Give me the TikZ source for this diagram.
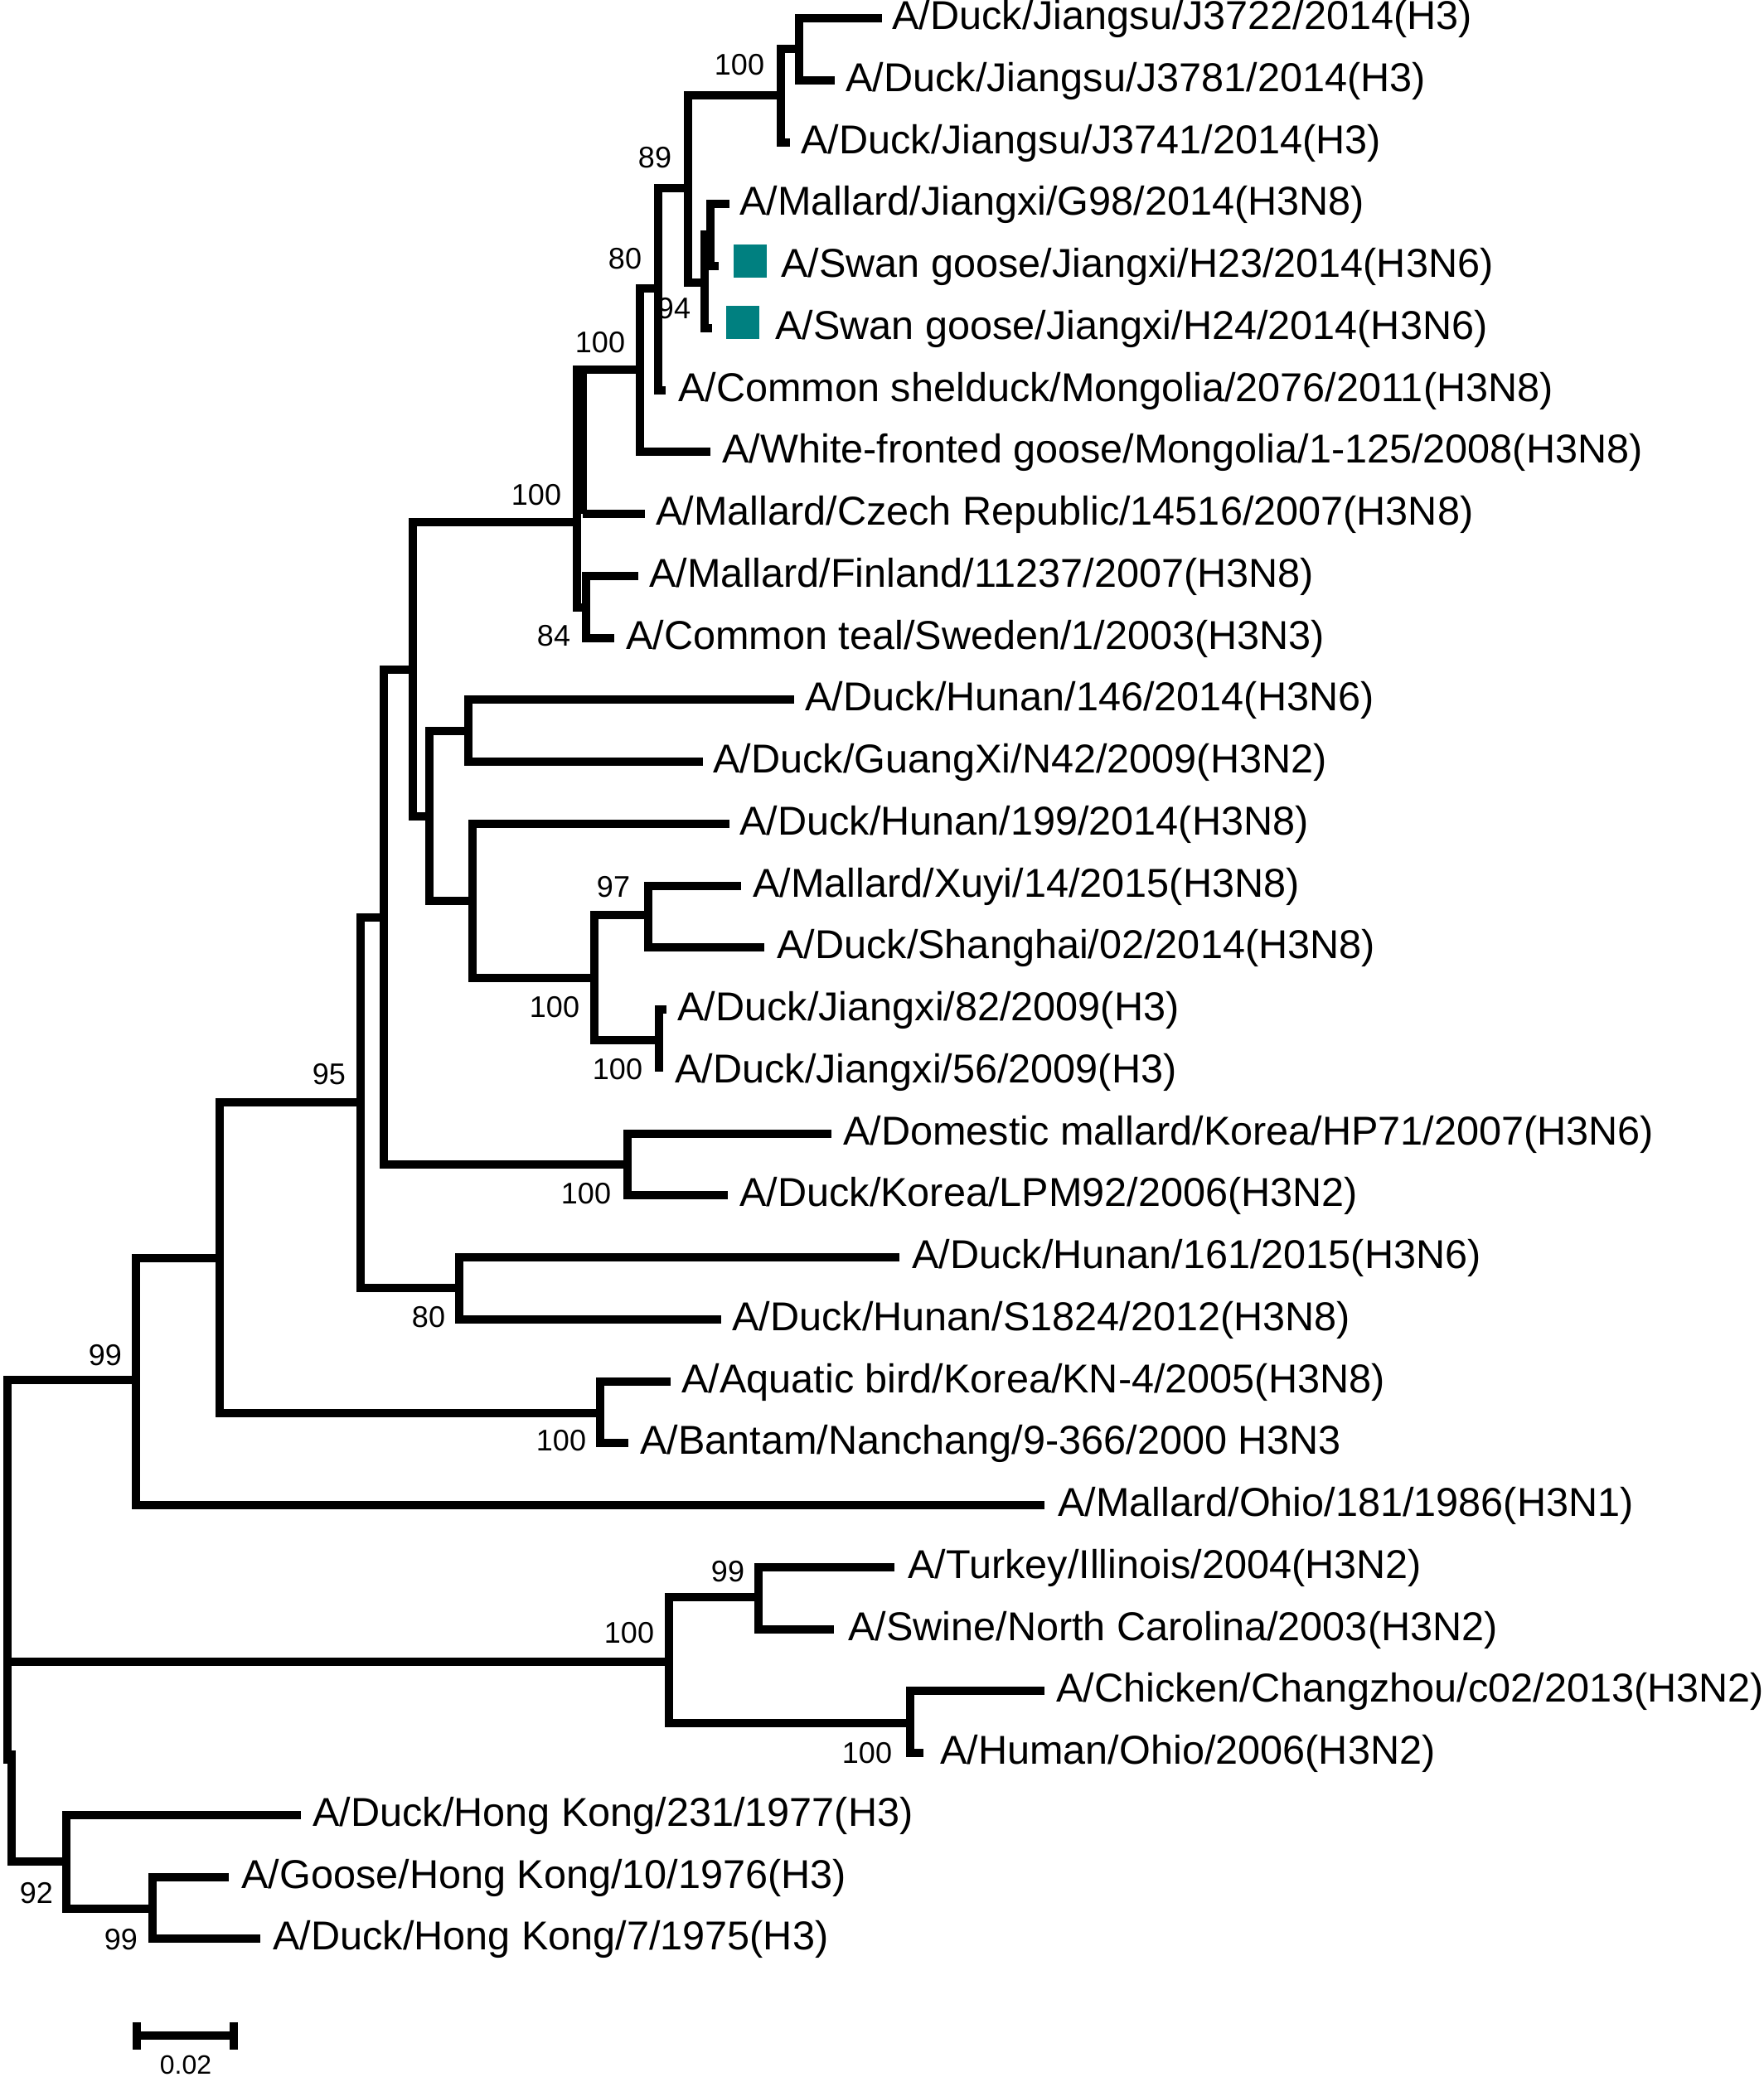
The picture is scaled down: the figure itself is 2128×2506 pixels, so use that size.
\documentclass[tikz,border=0pt]{standalone}
\usepackage{fontspec}
\setmainfont{Liberation Sans}
\usetikzlibrary{calc}
\definecolor{tealmark}{RGB}{0,128,128}
\newcommand\leafnode[5]{%
  \coordinate (#1) at (#2,{22+74.75*#3});
  \node[lab] (#1t) at ($(#1)+(#4,13.5)$) {#5};}
\begin{document}
\begin{tikzpicture}[x=0.5pt,y=-0.5pt,
  br/.style={line width=5pt},
  lab/.style={anchor=base west,inner sep=0pt,font=\fontsize{24.3}{29}\selectfont},
  bs/.style={inner sep=0pt,font=\fontsize{18}{22}\selectfont},
  sq/.style={fill=tealmark,draw=none,minimum size=20pt,inner sep=0pt}]
\useasboundingbox (0,0) rectangle (2128,2506);
% leaves
\leafnode{L0}{1064}{0}{12}{A/Duck/Jiangsu/J3722/2014(H3)}
\leafnode{L1}{1007}{1}{13}{A/Duck/Jiangsu/J3781/2014(H3)}
\leafnode{L2}{953}{2}{13}{A/Duck/Jiangsu/J3741/2014(H3)}
\leafnode{L3}{880}{3}{12}{A/Mallard/Jiangxi/G98/2014(H3N8)}
\leafnode{L4}{867}{4}{75}{A/Swan goose/Jiangxi/H23/2014(H3N6)}
\leafnode{L5}{859}{5}{76}{A/Swan goose/Jiangxi/H24/2014(H3N6)}
\leafnode{L6}{803}{6}{15}{A/Common shelduck/Mongolia/2076/2011(H3N8)}
\leafnode{L7}{857}{7}{14}{A/White-fronted goose/Mongolia/1-125/2008(H3N8)}
\leafnode{L8}{778}{8}{13}{A/Mallard/Czech Republic/14516/2007(H3N8)}
\leafnode{L9}{770}{9}{13}{A/Mallard/Finland/11237/2007(H3N8)}
\leafnode{L10}{741}{10}{14}{A/Common teal/Sweden/1/2003(H3N3)}
\leafnode{L11}{958}{11}{13}{A/Duck/Hunan/146/2014(H3N6)}
\leafnode{L12}{848}{12}{12}{A/Duck/GuangXi/N42/2009(H3N2)}
\leafnode{L13}{880}{13}{12}{A/Duck/Hunan/199/2014(H3N8)}
\leafnode{L14}{894}{14}{14}{A/Mallard/Xuyi/14/2015(H3N8)}
\leafnode{L15}{922}{15}{15}{A/Duck/Shanghai/02/2014(H3N8)}
\leafnode{L16}{804}{16}{13}{A/Duck/Jiangxi/82/2009(H3)}
\leafnode{L17}{795}{17}{19}{A/Duck/Jiangxi/56/2009(H3)}
\leafnode{L18}{1003}{18}{14}{A/Domestic mallard/Korea/HP71/2007(H3N6)}
\leafnode{L19}{878}{19}{14}{A/Duck/Korea/LPM92/2006(H3N2)}
\leafnode{L20}{1085}{20}{15}{A/Duck/Hunan/161/2015(H3N6)}
\leafnode{L21}{870}{21}{13}{A/Duck/Hunan/S1824/2012(H3N8)}
\leafnode{L22}{809}{22}{13}{A/Aquatic bird/Korea/KN-4/2005(H3N8)}
\leafnode{L23}{758}{23}{14}{A/Bantam/Nanchang/9-366/2000 H3N3}
\leafnode{L24}{1260}{24}{16}{A/Mallard/Ohio/181/1986(H3N1)}
\leafnode{L25}{1079}{25}{16}{A/Turkey/Illinois/2004(H3N2)}
\leafnode{L26}{1006}{26}{17}{A/Swine/North Carolina/2003(H3N2)}
\leafnode{L27}{1260}{27}{14}{A/Chicken/Changzhou/c02/2013(H3N2)}
\leafnode{L28}{1114}{28}{20}{A/Human/Ohio/2006(H3N2)}
\leafnode{L29}{363}{29}{14}{A/Duck/Hong Kong/231/1977(H3)}
\leafnode{L30}{276}{30}{15}{A/Goose/Hong Kong/10/1976(H3)}
\leafnode{L31}{314}{31}{15}{A/Duck/Hong Kong/7/1975(H3)}
% markers
\node[sq] (sq4) at (905,315) {};
\node[sq] (sq5) at (896,389) {};
% internal nodes
\coordinate (nJ1) at (964,59);
\coordinate (nJ100) at (942,115);
\coordinate (nG) at (857,283);
\coordinate (n94) at (850,341);
\coordinate (n89) at (830,227);
\coordinate (n80) at (794,348);
\coordinate (n100c) at (772,446);
\coordinate (n84) at (707,733);
\coordinate (n100b) at (696,630);
\coordinate (n100bb) at (703,620);
\coordinate (nd) at (498,808);
\coordinate (nf) at (565,882);
\coordinate (n97) at (782,1104);
\coordinate (njj) at (795,1255);
\coordinate (n100j) at (717,1180);
\coordinate (nh) at (570,1087);
\coordinate (ne) at (518,985);
\coordinate (ndm) at (757,1405);
\coordinate (nc) at (463,1107);
\coordinate (n80b) at (554,1554);
\coordinate (n95) at (435,1330);
\coordinate (naq) at (724,1705);
\coordinate (na) at (265,1518);
\coordinate (n99) at (164,1665);
\coordinate (ntk) at (915,1927);
\coordinate (nch) at (1098,2079);
\coordinate (nhum) at (807,2005);
\coordinate (nhk2) at (184,2303);
\coordinate (n92) at (80,2246);
\coordinate (root) at (9,2005);
\coordinate (rootb) at (9,2128);
\coordinate (rootc) at (14,2112);
% branches
\draw[br] (root) |- (n99);
\draw[br] (root) |- (nhum);
\draw[br] (root) -- (rootb);
\draw[br] (rootc) |- (n92);
\draw[br] (n99) |- (na);
\draw[br] (n99) |- (L24);
\draw[br] (na) |- (n95);
\draw[br] (na) |- (naq);
\draw[br] (naq) |- (L22);
\draw[br] (naq) |- (L23);
\draw[br] (n95) |- (nc);
\draw[br] (n95) |- (n80b);
\draw[br] (n80b) |- (L20);
\draw[br] (n80b) |- (L21);
\draw[br] (nc) |- (nd);
\draw[br] (nc) |- (ndm);
\draw[br] (ndm) |- (L18);
\draw[br] (ndm) |- (L19);
\draw[br] (nd) |- (n100b);
\draw[br] (nd) |- (ne);
\draw[br] (ne) |- (nf);
\draw[br] (ne) |- (nh);
\draw[br] (nf) |- (L11);
\draw[br] (nf) |- (L12);
\draw[br] (nh) |- (L13);
\draw[br] (nh) |- (n100j);
\draw[br] (n100j) |- (n97);
\draw[br] (n100j) |- (njj);
\draw[br] (n97) |- (L14);
\draw[br] (n97) |- (L15);
\draw[br] (njj) |- (L16);
\draw[br] (njj) |- (L17);
\draw[br] (n100b) |- (n100c);
\draw[br] (n100bb) |- (n100c);
\draw[br] (n100bb) |- (L8);
\draw[br] (n100b) |- (n84);
\draw[br] (n84) |- (L9);
\draw[br] (n84) |- (L10);
\draw[br] (n100c) |- (n80);
\draw[br] (n100c) |- (L7);
\draw[br] (n80) |- (n89);
\draw[br] (n80) |- (L6);
\draw[br] (n89) |- (nJ100);
\draw[br] (n89) |- (n94);
\draw[br] (nJ100) |- (nJ1);
\draw[br] (nJ100) |- (L2);
\draw[br] (nJ1) |- (L0);
\draw[br] (nJ1) |- (L1);
\draw[br] (n94) |- (nG);
\draw[br] (n94) |- (L5);
\draw[br] (nG) |- (L3);
\draw[br] (nG) |- (L4);
\draw[br] (nhum) |- (ntk);
\draw[br] (nhum) |- (nch);
\draw[br] (ntk) |- (L25);
\draw[br] (ntk) |- (L26);
\draw[br] (nch) |- (L27);
\draw[br] (nch) |- (L28);
\draw[br] (n92) |- (L29);
\draw[br] (n92) |- (nhk2);
\draw[br] (nhk2) |- (L30);
\draw[br] (nhk2) |- (L31);
% bootstrap values
\node[bs] (bJ100) at (892,78) {100};
\node[bs] (b89) at (790,190) {89};
\node[bs] (b80) at (754,312) {80};
\node[bs] (b94) at (813,372) {94};
\node[bs] (b100c) at (724,413) {100};
\node[bs] (b100b) at (647,597) {100};
\node[bs] (b84) at (668,767) {84};
\node[bs] (b97) at (740,1070) {97};
\node[bs] (b100j) at (669,1215) {100};
\node[bs] (bjj) at (745,1290) {100};
\node[bs] (b95) at (397,1296) {95};
\node[bs] (bdm) at (707,1440) {100};
\node[bs] (b80b) at (517,1589) {80};
\node[bs] (b99) at (127,1635) {99};
\node[bs] (baq) at (677,1738) {100};
\node[bs] (bhum) at (759,1970) {100};
\node[bs] (btk) at (878,1896) {99};
\node[bs] (bch) at (1046,2115) {100};
\node[bs] (b92) at (44,2284) {92};
\node[bs] (bhk2) at (146,2340) {99};
% scale bar
\coordinate (sbL) at (165,2456);
\coordinate (sbR) at (282,2456);
\draw[br] (sbL) -- (sbR);
\draw[br] ($(sbL)+(0,-16)$) -- ($(sbL)+(0,17)$);
\draw[br] ($(sbR)+(0,-16)$) -- ($(sbR)+(0,17)$);
\node[inner sep=0pt,font=\fontsize{16}{19}\selectfont] (sbt) at (224,2491) {0.02};
\end{tikzpicture}
\end{document}
